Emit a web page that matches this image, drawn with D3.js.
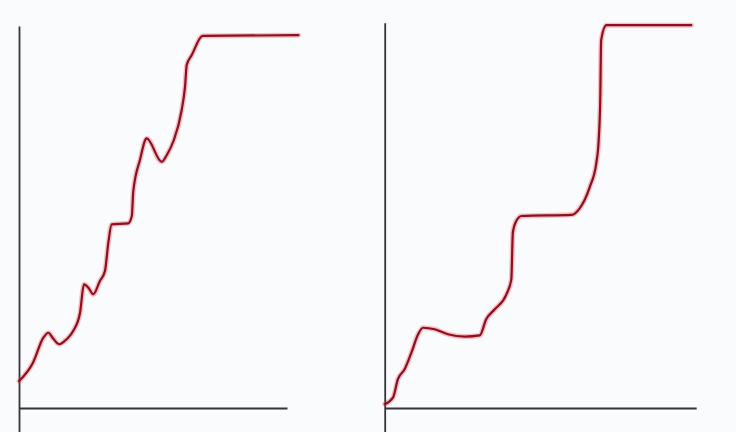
<!DOCTYPE html>
<html>
<head>
<meta charset="utf-8">
<script src="https://cdn.jsdelivr.net/npm/d3@7"></script>
<style>
  html, body { margin: 0; padding: 0; background: #fafbfd; }
  svg { display: block; }
</style>
</head>
<body>
<svg id="chart" width="736" height="432"></svg>
<script>
// Left panel series (x, y in 0..100 units)
const leftX = [0, 5.0, 8.7, 10.5, 12.0, 14.4, 17.0, 19.4, 21.8, 23.2, 24.8, 26.5, 28.9, 30.7, 31.9, 33.1, 39.0, 40.3, 40.8, 43.2, 45.6, 51.0, 52.8, 55.1, 58.1, 59.3, 59.9, 61.7, 65.6, 99.8];
const leftY = [7.0, 11.8, 18.3, 19.6, 18.3, 16.6, 17.9, 20.1, 24.8, 32.2, 31.3, 29.6, 33.1, 35.7, 43.0, 47.8, 48.1, 50.0, 56.3, 64.6, 70.2, 64.1, 65.9, 69.4, 77.6, 83.7, 89.3, 91.9, 96.9, 97.1];
// Right panel series
const rightX = [0, 2.7, 4.3, 6.5, 8.7, 10.9, 12.5, 16.3, 20.6, 26.1, 31.0, 33.1, 35.9, 39.7, 41.3, 41.8, 42.9, 44.6, 60.9, 63.6, 66.9, 69.0, 69.8, 70.3, 70.6, 72.3, 100];
const rightY = [1.0, 2.7, 7.5, 10.1, 14.4, 19.2, 20.9, 20.5, 19.2, 18.6, 18.9, 23.1, 25.7, 29.6, 33.5, 45.7, 48.7, 50.0, 50.3, 52.0, 57.6, 63.7, 69.8, 80.2, 95.8, 99.7, 99.7];
// Axis extents in data units
const leftAxisX = [0, 95.7], leftAxisY = [-6.3, 99.5];
const rightAxisX = [0, 101.6], rightAxisY = [-6.3, 100.3];

const svg = d3.select("#chart");
const lineColor = "#8e1020";
const axisColor = "#34343b";

function panel(xs, ys, axX, axY, x0, x1, curve) {
  const x = d3.scaleLinear().domain([0, 100]).range([x0, x1]);
  const y = d3.scaleLinear().domain([0, 100]).range([408, 24]);
  const g = svg.append("g");

  const xa = x.copy().domain(axX).range(axX.map(x));
  const ya = y.copy().domain(axY).range(axY.map(y));

  g.append("g").attr("transform", `translate(0,${y(0)})`)
    .call(d3.axisBottom(xa).tickValues([]).tickSizeOuter(0));
  g.append("g").attr("transform", `translate(${x(0)},0)`)
    .call(d3.axisLeft(ya).tickValues([]).tickSizeOuter(0));
  g.selectAll(".domain").attr("stroke", axisColor).attr("stroke-width", 1.8);

  const data = xs.map((v, i) => [v, ys[i]]);
  const line = d3.line().x(d => x(d[0])).y(d => y(d[1])).curve(curve);
  g.append("path").datum(data).attr("d", line)
    .attr("fill", "none").attr("stroke", "#e8303c").attr("stroke-opacity", 0.3)
    .attr("stroke-width", 5).attr("stroke-linejoin", "round").attr("stroke-linecap", "round");
  g.append("path").datum(data).attr("d", line)
    .attr("fill", "none").attr("stroke", lineColor)
    .attr("stroke-width", 2.2).attr("stroke-linejoin", "round").attr("stroke-linecap", "round");
}

panel(leftX, leftY, leftAxisX, leftAxisY, 19, 299, d3.curveMonotoneX);
panel(rightX, rightY, rightAxisX, rightAxisY, 384.7, 691.3, d3.curveMonotoneX);
</script>
</body>
</html>
